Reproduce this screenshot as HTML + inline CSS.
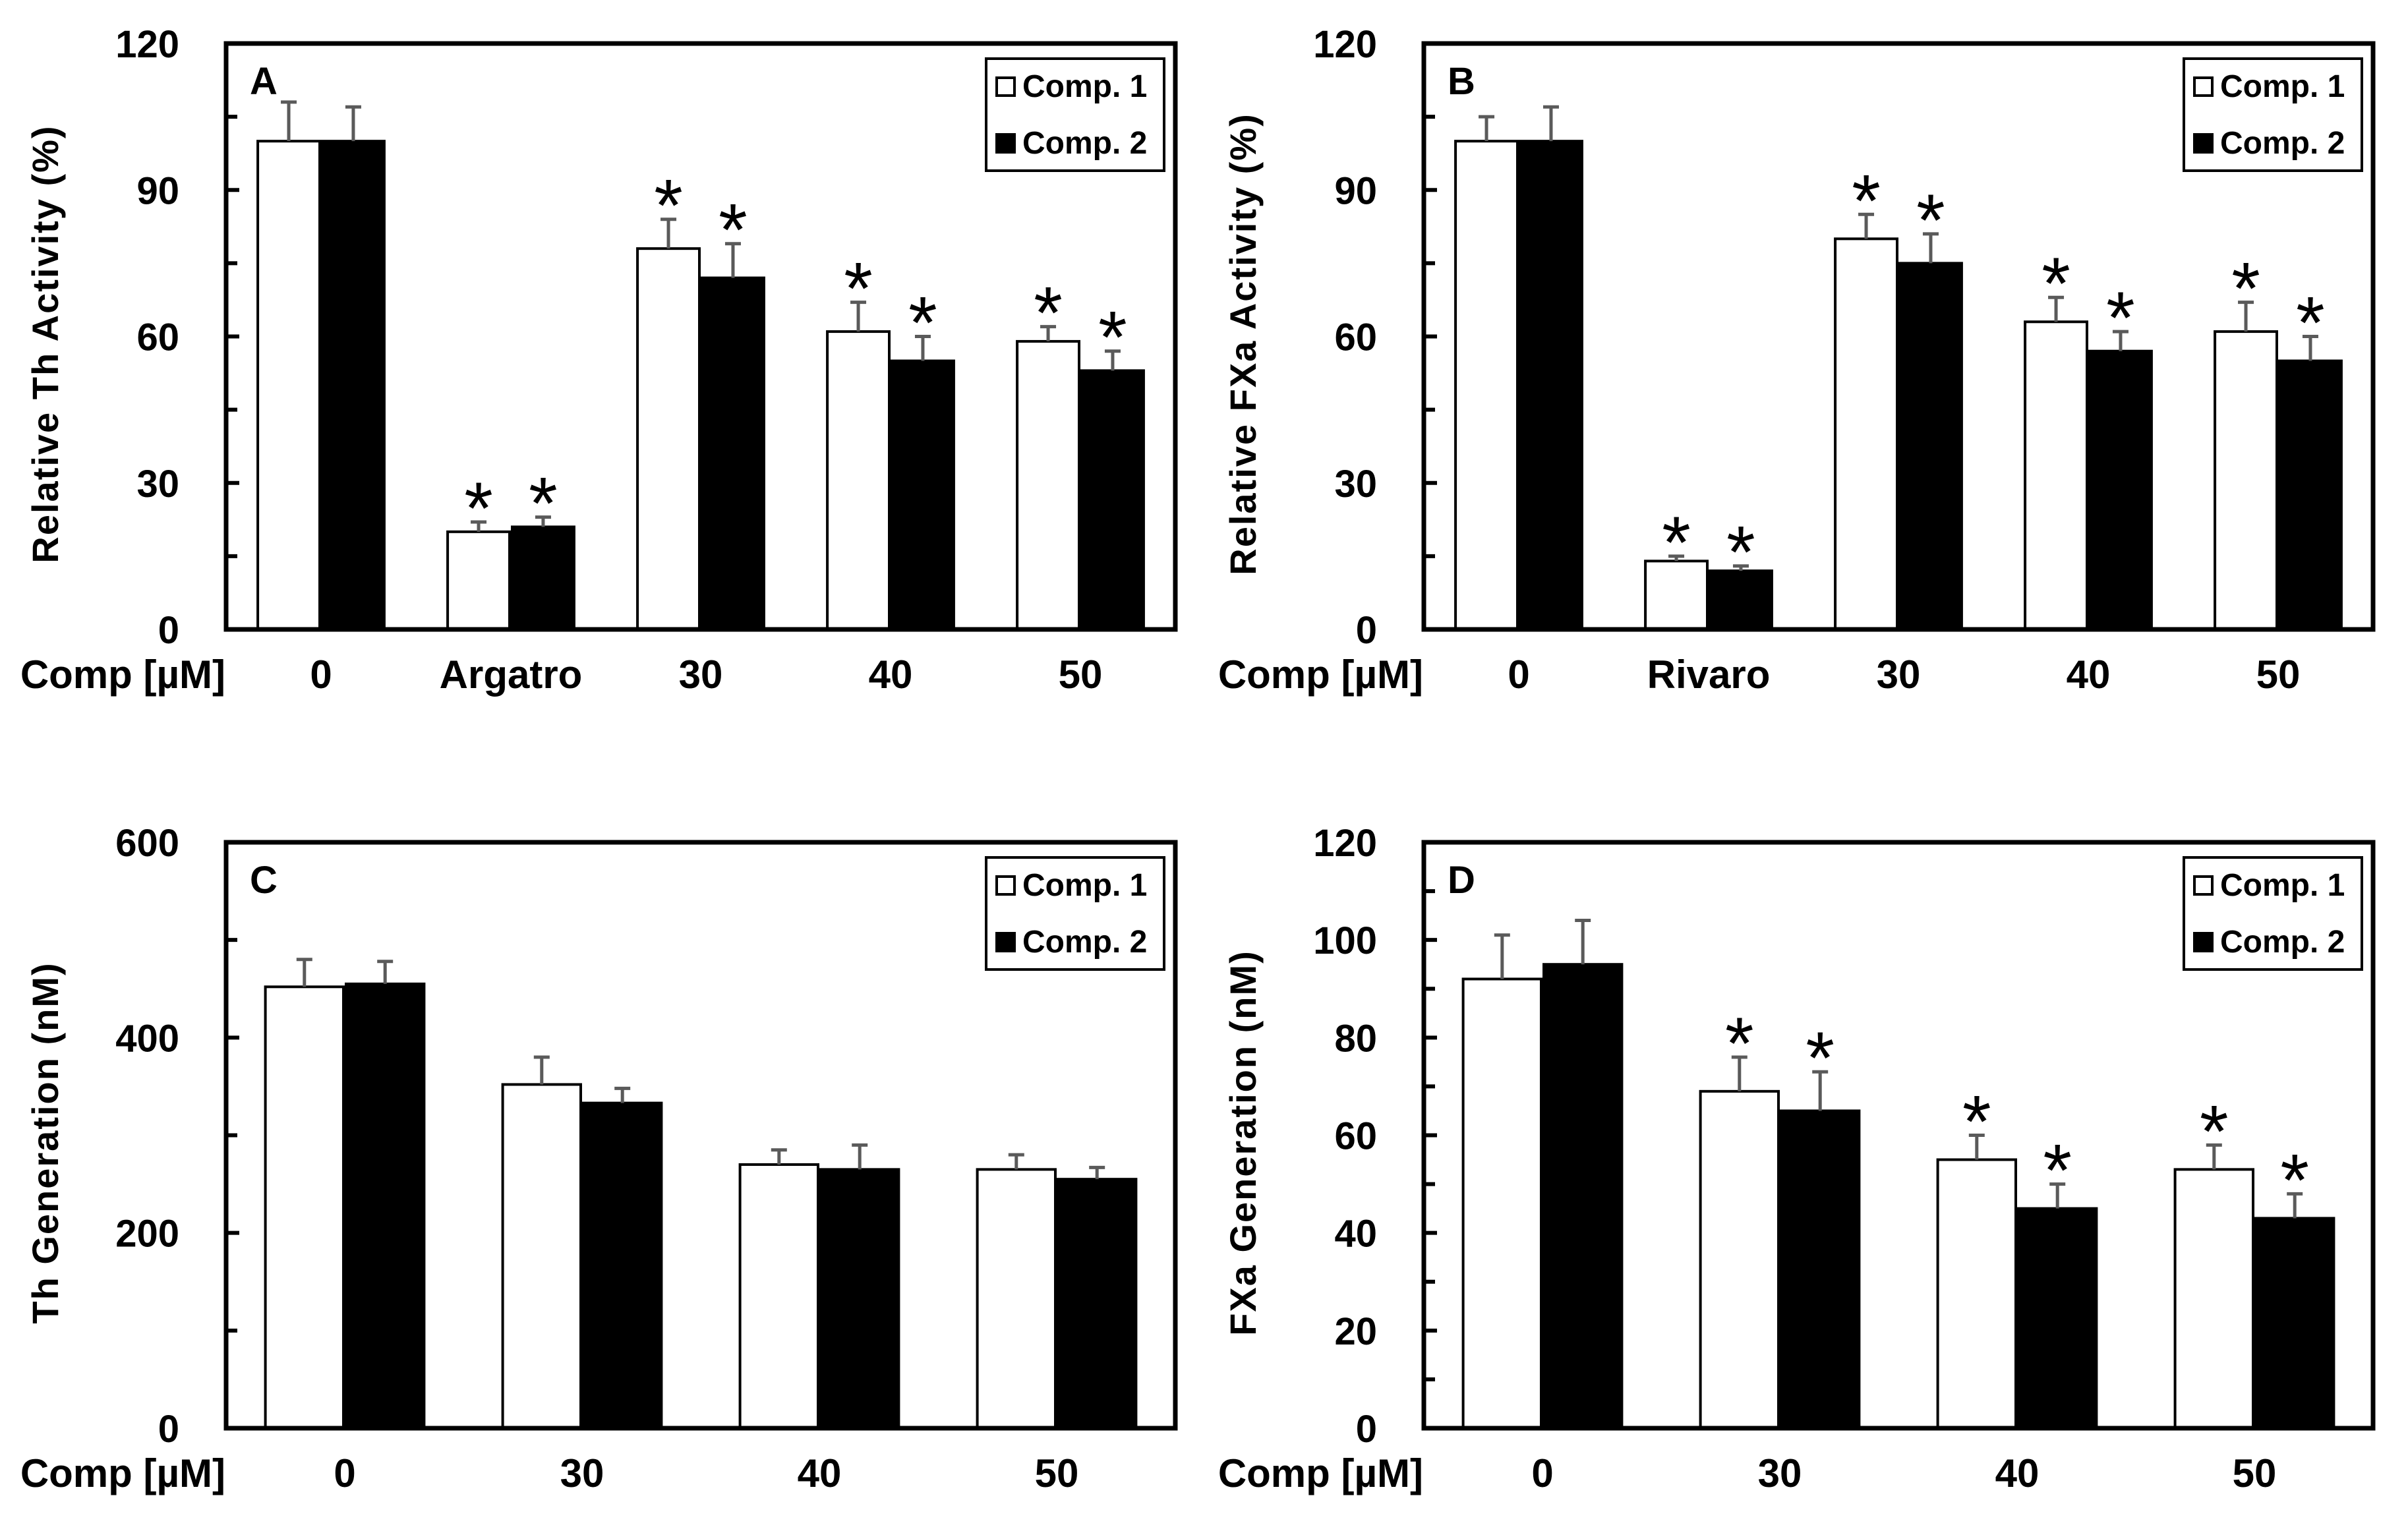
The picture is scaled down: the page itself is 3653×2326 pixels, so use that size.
<!DOCTYPE html>
<html><head><meta charset="utf-8">
<style>
html,body{margin:0;padding:0;background:#fff;}
svg{display:block;font-family:"Liberation Sans",Arial,sans-serif;}
</style></head>
<body>
<svg id="fig" width="3653" height="2326" viewBox="0 0 3653 2326" xmlns="http://www.w3.org/2000/svg"></svg>
<script>
// ---- Panel A data ----
const catsA = ["0","Argatro","30","40","50"];
const c1A = [100,20,78,61,59];
const e1A = [8,2,6,6,3];
const c2A = [100,21,72,55,53];
const e2A = [7,2,7,5,4];
const starsA = [false,true,true,true,true];
const ticksA = [0,30,60,90,120];
// ---- Panel B data ----
const catsB = ["0","Rivaro","30","40","50"];
const c1B = [100,14,80,63,61];
const e1B = [5,1,5,5,6];
const c2B = [100,12,75,57,55];
const e2B = [7,1,6,4,5];
const starsB = [false,true,true,true,true];
const ticksB = [0,30,60,90,120];
// ---- Panel C data ----
const catsC = ["0","30","40","50"];
const c1C = [452,352,270,265];
const e1C = [28,28,15,15];
const c2C = [455,333,265,255];
const e2C = [23,15,25,12];
const starsC = [false,false,false,false];
const ticksC = [0,200,400,600];
// ---- Panel D data ----
const catsD = ["0","30","40","50"];
const c1D = [92,69,55,53];
const e1D = [9,7,5,5];
const c2D = [95,65,45,43];
const e2D = [9,8,5,5];
const starsD = [false,true,true,true];
const ticksD = [0,20,40,60,80,100,120];

const NS = "http://www.w3.org/2000/svg";
const svg = document.getElementById("fig");
function mk(tag, attrs, parent){
  const el = document.createElementNS(NS, tag);
  for (const k in attrs) el.setAttribute(k, attrs[k]);
  (parent||svg).appendChild(el);
  return el;
}

function panel(o){
  const g = mk("g", {});
  
  
  const x0 = o.ox + 343, x1 = o.ox + 1783, yT = o.oy + 66, yB = o.oy + 955;
  const ymax = o.ticks[o.ticks.length-1];
  const yScale = v => yB - (v / ymax) * (yB - yT);
  const n = o.cats.length;
  const cw = (x1 - x0) / n;
  const xCenter = i => x0 + cw * (i + 0.5);
  const bw = cw * 0.34;

  for (let i = 0; i < n; i++) {
    const series = [[o.c1, o.e1, "#fff", "comp1"], [o.c2, o.e2, "#000", "comp2"]];
    series.forEach((s, k) => {
      const v = s[0][i], e = s[1][i];
      const bx = xCenter(i) - bw + k * bw;
      const r = mk("rect", {x: bx + 2, y: yScale(v), width: bw - 4, height: yB - yScale(v), fill: s[2], stroke: "#000", "stroke-width": 4}, g);
      
      
      const cx = bx + bw / 2;
      const eb = mk("path", {d: `M${cx},${yScale(v)} V${yScale(v+e)} M${cx-12},${yScale(v+e)} H${cx+12}`, stroke: "#5a5a5a", "stroke-width": 5, fill: "none"}, g);
      
      
      if (o.stars[i]) {
        const st = mk("text", {x: cx, y: yScale(v+e) + 18, "font-size": 112, "font-weight": "normal", "text-anchor": "middle"}, g);
        st.textContent = "*";
        
        
      }
    });
  }

  o.ticks.forEach((t, j) => {
    const y = yScale(t);
    if (j > 0 && j < o.ticks.length - 1) {
      const tk = mk("line", {x1: x0, x2: x0 + 20, y1: y, y2: y, stroke: "#000", "stroke-width": 6}, g);
      
      
    }
    if (j < o.ticks.length - 1) {
      const ym = yScale(t + (o.ticks[1]-o.ticks[0]) / 2);
      const mt = mk("line", {x1: x0, x2: x0 + 17, y1: ym, y2: ym, stroke: "#000", "stroke-width": 6}, g);
      
      
    }
    const tl = mk("text", {x: o.ox + 272, y: y + 21, "font-size": 58, "font-weight": "bold", "text-anchor": "end"}, g);
    tl.textContent = t;
    
    
  });

  const fr = mk("rect", {x: x0, y: yT, width: x1 - x0, height: yB - yT, fill: "none", stroke: "#000", "stroke-width": 7}, g);
  
  

  o.cats.forEach((c, i) => {
    const cl = mk("text", {x: xCenter(i), y: o.oy + 1044, "font-size": 60, "font-weight": "bold", "text-anchor": "middle"}, g);
    cl.textContent = c;
    
    
  });
  const xt = mk("text", {x: o.ox + 342, y: o.oy + 1044, "font-size": 60, "font-weight": "bold", "text-anchor": "end"}, g);
  xt.textContent = "Comp [\u00B5M]";
  
  

  const cy = o.oy + 522;
  const yt = mk("text", {x: 0, y: 0, "font-size": 56, "font-weight": "bold", "text-anchor": "middle", "letter-spacing": 2, transform: `translate(${o.ox + 88},${cy}) rotate(-90)`}, g);
  yt.textContent = o.ytitle;
  
  

  const pl = mk("text", {x: x0 + 36, y: yT + 77, "font-size": 58, "font-weight": "bold"}, g);
  pl.textContent = o.id;
  
  

  const lg = mk("g", {}, g);
  
  
  mk("rect", {x: o.ox + 1496, y: o.oy + 89, width: 270, height: 170, fill: "#fff", stroke: "#000", "stroke-width": 4}, lg);
  const entries = [["Comp. 1", "#fff", 147], ["Comp. 2", "#000", 233]];
  entries.forEach(en => {
    const le = mk("g", {}, lg);
    
    
    mk("rect", {x: o.ox + 1512, y: o.oy + en[2] - 29, width: 27, height: 27, fill: en[1], stroke: "#000", "stroke-width": 4}, le);
    const tx = mk("text", {x: o.ox + 1551, y: o.oy + en[2], "font-size": 48, "font-weight": "bold"}, le);
    tx.textContent = en[0];
  });
}

panel({id:"A", ox:0, oy:0, cats:catsA, c1:c1A, e1:e1A, c2:c2A, e2:e2A, stars:starsA, ticks:ticksA, ytitle:"Relative Th Activity (%)"});
panel({id:"B", ox:1817, oy:0, cats:catsB, c1:c1B, e1:e1B, c2:c2B, e2:e2B, stars:starsB, ticks:ticksB, ytitle:"Relative FXa Activity (%)"});
panel({id:"C", ox:0, oy:1212, cats:catsC, c1:c1C, e1:e1C, c2:c2C, e2:e2C, stars:starsC, ticks:ticksC, ytitle:"Th Generation (nM)"});
panel({id:"D", ox:1817, oy:1212, cats:catsD, c1:c1D, e1:e1D, c2:c2D, e2:e2D, stars:starsD, ticks:ticksD, ytitle:"FXa Generation (nM)"});
</script>
</body></html>
